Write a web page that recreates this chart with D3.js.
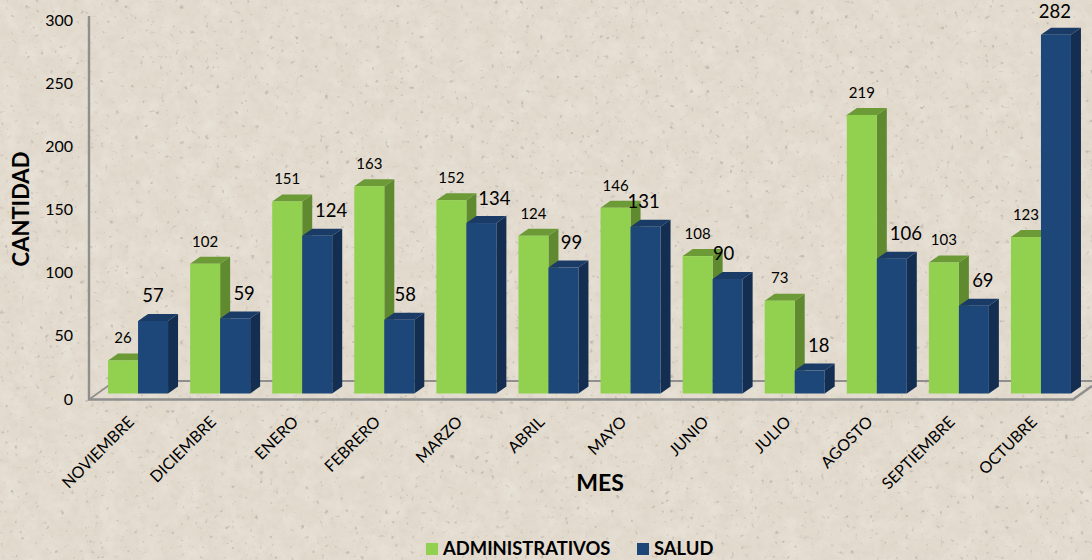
<!DOCTYPE html>
<html><head><meta charset="utf-8">
<style>html,body{margin:0;padding:0;background:#e2dbcf}svg{display:block}text{font-family:Lato,"Open Sans",sans-serif;fill:#000}</style>
<script src="https://cdn.jsdelivr.net/npm/d3@7"></script></head>
<body><svg id="c" width="1092" height="560"></svg>
<script>
const months = ["NOVIEMBRE","DICIEMBRE","ENERO","FEBRERO","MARZO","ABRIL","MAYO","JUNIO","JULIO","AGOSTO","SEPTIEMBRE","OCTUBRE"];
const administrativos = [26,102,151,163,152,124,146,108,73,219,103,123];
const salud = [57,59,124,58,134,99,131,90,18,106,69,282];
const yTicks = [0,50,100,150,200,250,300];
const seriesNames = ["ADMINISTRATIVOS","SALUD"];

const W=1092,H=560;
const svg=d3.select("#c");
const defs=svg.append("defs");
const f1=defs.append("filter").attr("id","grain").attr("x",0).attr("y",0).attr("width","100%").attr("height","100%");
f1.append("feTurbulence").attr("type","fractalNoise").attr("baseFrequency",0.14).attr("numOctaves",3).attr("seed",7);
f1.append("feColorMatrix").attr("values","0 0 0 0 0.45  0 0 0 0 0.41  0 0 0 0 0.35  1.2 0 0 0 -0.5");
const f2=defs.append("filter").attr("id","specks").attr("x",0).attr("y",0).attr("width","100%").attr("height","100%");
f2.append("feTurbulence").attr("type","fractalNoise").attr("baseFrequency",0.2).attr("numOctaves",2).attr("seed",23);
f2.append("feColorMatrix").attr("values","0 0 0 0 0.35  0 0 0 0 0.32  0 0 0 0 0.28  0 6 0 0 -4.1");
f2.append("feGaussianBlur").attr("stdDeviation",0.6);
const f3=defs.append("filter").attr("id","light").attr("x",0).attr("y",0).attr("width","100%").attr("height","100%");
f3.append("feTurbulence").attr("type","fractalNoise").attr("baseFrequency",0.05).attr("numOctaves",3).attr("seed",41);
f3.append("feColorMatrix").attr("values","0 0 0 0 0.95  0 0 0 0 0.93  0 0 0 0 0.88  0 0 1.6 0 -0.6");

svg.append("rect").attr("width",W).attr("height",H).attr("fill","#e2dacd");
svg.append("rect").attr("width",W).attr("height",H).attr("filter","url(#light)").attr("opacity",0.3);
svg.append("rect").attr("width",W).attr("height",H).attr("filter","url(#grain)").attr("opacity",0.18);
svg.append("rect").attr("width",W).attr("height",H).attr("filter","url(#specks)").attr("opacity",0.45);

const x=d3.scaleBand().domain(months).range([97,1082]).paddingInner(0).paddingOuter(0);
const barW=30, dx=10, dy=7;
const y=d3.scaleLinear().domain([0,300]).range([393.5,11.9]);
const yAxisScale=d3.scaleLinear().domain([0,300]).range([399,20]);
const cx=m=>x(m)+x.bandwidth()/2;

const axisCol="#8f8f8f";
const frame=svg.append("g").attr("fill","none").attr("stroke",axisCol);
frame.append("line").attr("x1",115).attr("x2",W).attr("y1",381).attr("y2",381).attr("stroke-width",2);
frame.append("path").attr("stroke-width",2.4).attr("d","M89,16V399.5H1073L1092,386");
frame.append("path").attr("stroke-width",1.6).attr("d","M89,399.5L115,381");

const colors=[{front:"#92d14f",top:"#6b9a36",side:"#5f8a2f"},{front:"#1d4679",top:"#1a3b66",side:"#142e51"}];
function bar(g,x0,v,c){
  const t=y(v),b=y(0);
  g.append("path").attr("fill",c.side).attr("d",`M${x0+barW},${t}l${dx},${-dy}V${b-dy}l${-dx},${dy}Z`);
  g.append("path").attr("fill",c.top).attr("d",`M${x0},${t}l${dx},${-dy}h${barW}l${-dx},${dy}Z`);
  g.append("rect").attr("x",x0).attr("y",t).attr("width",barW).attr("height",b-t).attr("fill",c.front);
}
const bars=svg.append("g");
months.forEach((m,i)=>{
  const g=bars.append("g");
  bar(g,cx(m)-barW,administrativos[i],colors[0]);
  bar(g,cx(m),salud[i],colors[1]);
});

// label nudges relative to the bar centre
const saludNudge=[0,9,14,6,13,8,-2,-4,9,14,9,-1];
const labels=svg.append("g").attr("text-anchor","middle");
months.forEach((m,i)=>{
  labels.append("text").attr("x",cx(m)-barW/2).attr("y",y(administrativos[i])-22.5).attr("dy","0.35em")
    .attr("font-size",15).text(administrativos[i]);
  labels.append("text").attr("x",cx(m)+barW/2+saludNudge[i]).attr("y",Math.max(y(salud[i])-25,11.5)).attr("dy","0.35em")
    .attr("font-size",18.5).text(salud[i]);
});

const ya=svg.append("g").attr("transform","translate(73,0)")
  .call(d3.axisLeft(yAxisScale).tickValues(yTicks).tickSize(0).tickPadding(0));
ya.select(".domain").remove();
ya.selectAll("text").attr("font-size",16).style("font-family","Lato,sans-serif").attr("fill","#000");

const xa=svg.append("g").attr("transform","translate(0,400)")
  .call(d3.axisBottom(x).tickSize(0).tickPadding(0));
xa.select(".domain").remove();
xa.selectAll("text").attr("font-size",16).style("font-family","Lato,sans-serif").attr("fill","#000")
  .attr("text-anchor","end").attr("dy",0).attr("y",0)
  .attr("transform","translate(-3,23) rotate(-45)");

svg.append("text").attr("transform","translate(21,209) rotate(-90)").attr("text-anchor","middle").attr("dy","0.35em")
  .attr("font-size",22).attr("font-weight",700).text("CANTIDAD");
svg.append("text").attr("x",600).attr("y",483).attr("text-anchor","middle").attr("dy","0.35em")
  .attr("font-size",23).attr("font-weight",700).text("MES");

const lg=svg.append("g");
[[426,443],[637,654]].forEach((p,i)=>{
  lg.append("rect").attr("x",p[0]).attr("y",543).attr("width",12).attr("height",12).attr("fill",colors[i].front);
  lg.append("text").attr("x",p[1]).attr("y",549).attr("dy","0.35em").attr("font-size",18.4).attr("font-weight",700).text(seriesNames[i]);
});
</script></body></html>
